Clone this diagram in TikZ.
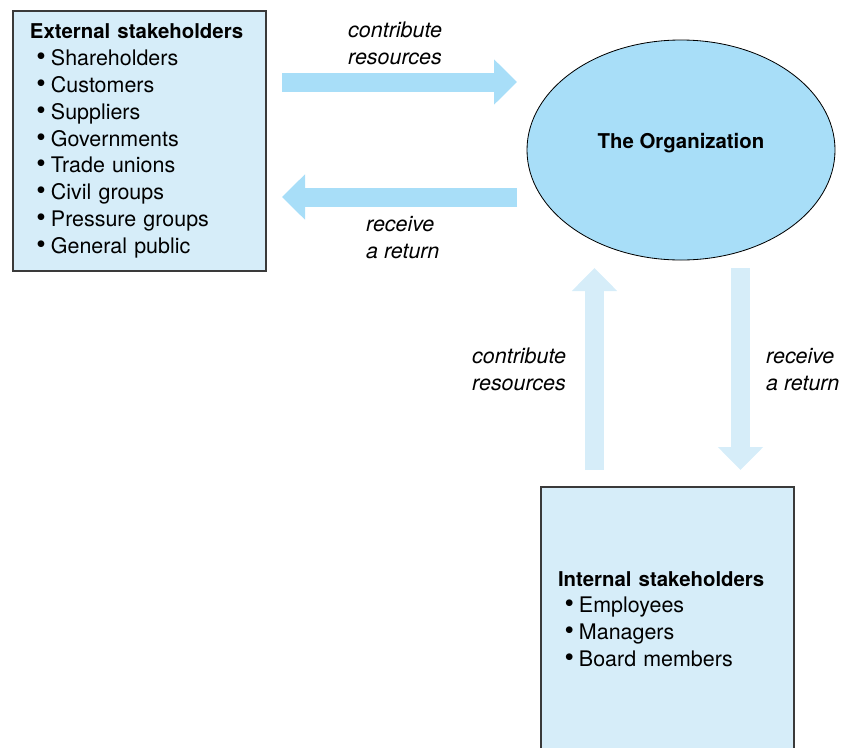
\documentclass[tikz,border=0pt]{standalone}
\usepackage{fontspec}
\setmainfont{TeX Gyre Heros}
\usepackage{xcolor}
\usetikzlibrary{arrows.meta,shapes.geometric,positioning}

\definecolor{orgblue}{HTML}{A8DEF8}
\definecolor{paleblue}{HTML}{D6EDF9}
\definecolor{boxline}{HTML}{3A3A3A}
\newcommand{\stake}{\makebox[17.9pt][r]{\fontsize{23}{22.9}\selectfont\textbullet\hspace*{4.3pt}}}

\begin{document}
\begin{tikzpicture}[x=0.03cm,y=-0.03cm,
    txt/.style={font=\fontsize{18.3}{22.9}\selectfont},
    lbl/.style={font=\fontsize{18.3}{22.4}\selectfont\itshape,align=left,anchor=base west,inner sep=0},
    stakebox/.style={draw=boxline,line width=0.9pt,fill=paleblue,minimum width=7.59cm,
        text width=6.57cm,inner sep=0,align=left,txt},
    flow/.style={line width=0.57cm,-{Triangle[length=0.69cm,width=1.32cm]}},
    head/.style={font=\fontsize{17.4}{22.9}\selectfont\bfseries}]
    \useasboundingbox (0,0) rectangle (845,747);
    % stakeholders
    \node[stakebox,minimum height=7.8cm] (ext) at (139.5,141)
        {{\fontsize{17.4}{22.9}\selectfont\bfseries External stakeholders}\\
         \stake Shareholders\\ \stake Customers\\ \stake Suppliers\\
         \stake Governments\\ \stake Trade unions\\ \stake Civil groups\\
         \stake Pressure groups\\ \stake General public};
    \node[stakebox,minimum height=7.92cm] (int) at (667.5,619)
        {{\fontsize{17.4}{22.9}\selectfont\bfseries Internal stakeholders}\\
         \stake Employees\\ \stake Managers\\ \stake Board members};
    \node[ellipse,draw,line width=0.7pt,fill=orgblue,minimum width=9.24cm,minimum height=6.6cm,
        inner sep=0] (org) at (681,150) {};
    \node[head] (orgname) at ([yshift=6pt]org.center) {The Organization};
    % flows
    \coordinate (extout) at (282,82);  \coordinate (orgin) at (517,82);
    \coordinate (orgout) at (517,197); \coordinate (extin) at (282,197);
    \coordinate (intout) at (594.5,470); \coordinate (orgup) at (594.5,268);
    \coordinate (orgdown) at (740.5,268); \coordinate (intin) at (740.5,470);
    \draw[flow,orgblue] (extout) -- (orgin);
    \draw[flow,orgblue] (orgout) -- (extin);
    \draw[flow,paleblue] (intout) -- (orgup);
    \draw[flow,paleblue] (orgdown) -- (intin);
    \node[lbl] (cr1) at (348,64) {contribute\\resources};
    \node[lbl] (rr1) at (366,258) {receive\\a return};
    \node[lbl] (cr2) at (472,390) {contribute\\resources};
    \node[lbl] (rr2) at (766,390) {receive\\a return};
\end{tikzpicture}
\end{document}
